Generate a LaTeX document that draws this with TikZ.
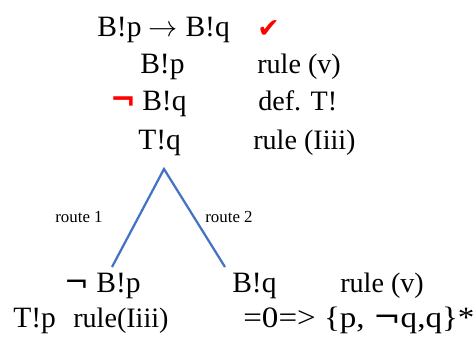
\documentclass[tikz,border=0pt]{standalone}
\usepackage{fontspec}
\setmainfont{Liberation Serif}
\newfontfamily\symfont{DejaVu Sans}
\usepackage{tikz}

\tikzset{
  formula/.style={anchor=base west, inner sep=0pt, font=\fontsize{21}{25}\selectfont},
  rulenote/.style={anchor=base west, inner sep=0pt, font=\fontsize{20}{24}\selectfont},
  routenote/.style={anchor=center, inner sep=0pt, font=\fontsize{12}{14}\selectfont},
  branch/.style={draw=branchblue, line width=1.6pt}
}
\definecolor{branchblue}{RGB}{68,114,196}
\newcommand{\negsign}{{\symfont ¬}}

\begin{document}
\begin{tikzpicture}[x=0.025cm, y=-0.025cm]
  \useasboundingbox (0,0) rectangle (474,337);
  % top of the tableau
  \node[formula] (impl) at (97,36) {B!p $\rightarrow$ B!q};
  \node[anchor=base west, inner sep=0pt, text=red, font=\symfont\fontsize{19}{21}\selectfont] (tick) at (257,37) {✔};
  \node[formula] (bp) at (140,73) {B!p};
  \node[rulenote] (rv) at (257,73) {rule (v)};
  \node[anchor=base west, inner sep=0pt, text=red, font=\symfont\bfseries\fontsize{22}{25}\selectfont] (neg) at (110,110) {¬};
  \node[formula] (bq) at (142,110) {B!q};
  \node[rulenote] (deft) at (258,110) {def. T!};
  \node[formula] (tq) at (138,149) {T!q};
  \node[rulenote] (riii) at (253,149) {rule (Iiii)};
  % the two routes
  \coordinate (apex) at (164,169);
  \coordinate (lend) at (112,267);
  \coordinate (rend) at (225,267);
  \draw[branch] (lend) -- (apex) -- (rend);
  \node[routenote] (r1) at (79,217) {route 1};
  \node[routenote] (r2) at (229,217) {route 2};
  % bottom
  \node[formula] (nbp) at (64,292) {\negsign\ B!p};
  \node[formula] (bq2) at (232,292) {B!q};
  \node[rulenote] (rv2) at (340,292) {rule (v)};
  \node[formula] (tp) at (13,327) {T!p};
  \node[rulenote] (riii2) at (73,327) {rule(Iiii)};
  \node[formula, xscale=1.12] (res) at (243,327) {=0=> \{p, \negsign q,q\}*};
\end{tikzpicture}
\end{document}
